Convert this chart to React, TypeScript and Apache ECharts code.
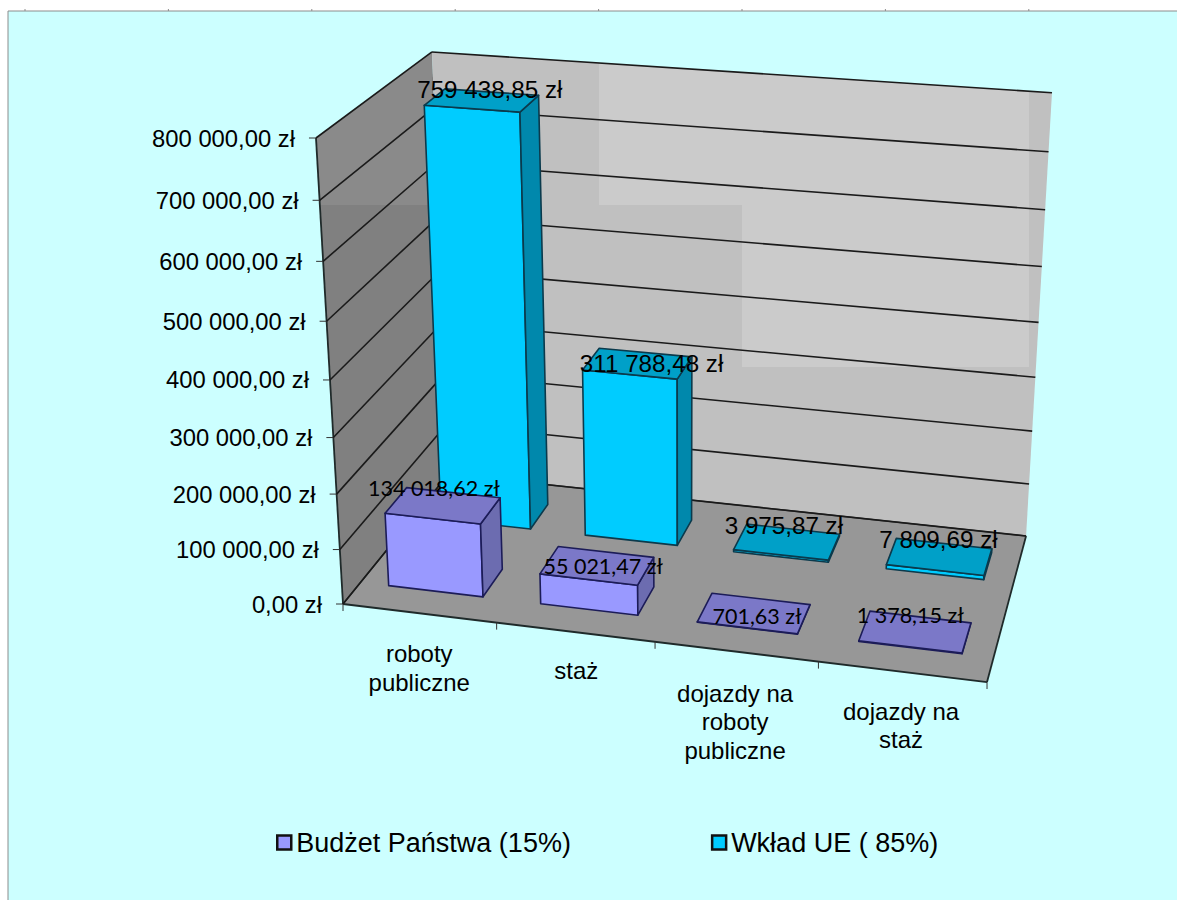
import React, { useEffect, useRef } from "react";
import * as echarts from "echarts";

const categories = ["roboty\npubliczne", "staż", "dojazdy na\nroboty\npubliczne", "dojazdy na\nstaż"];
const budzetValues = [134018.62, 55021.47, 701.63, 1378.15];
const ueValues = [759438.85, 311788.48, 3975.87, 7809.69];
const budzetLabels = ["134 018,62 zł", "55 021,47 zł", "701,63 zł", "1 378,15 zł"];
const ueLabels = ["759 438,85 zł", "311 788,48 zł", "3 975,87 zł", "7 809,69 zł"];
const axisTicks = [0, 100000, 200000, 300000, 400000, 500000, 600000, 700000, 800000];
const axisLabels = ["0,00 zł", "100 000,00 zł", "200 000,00 zł", "300 000,00 zł", "400 000,00 zł", "500 000,00 zł", "600 000,00 zł", "700 000,00 zł", "800 000,00 zł"];
const seriesNames = ["Budżet Państwa (15%)", "Wkład UE ( 85%)"];

// Layout of the perspective box
const O = [343, 604], U = [584.8, 37.1], V = [-50.4, -476.2], W = [158.8, -73.5];
const PA = -0.06, PB = -0.074, PC = 0.119;
const project = (x: number, y: number, z: number) => {
  const w = 1 + PA * x + PB * y + PC * z;
  return [
    (O[0] + x * U[0] + y * V[0] + z * W[0]) / w,
    (O[1] + x * U[1] + y * V[1] + z * W[1]) / w,
  ];
};
const GRID = { left: 100, top: 100, width: 800, height: 600 };
const normX = (px: number) => (px - GRID.left) / GRID.width;
const normY = (py: number) => (GRID.top + GRID.height - py) / GRID.height;
const BAR_HALF_Z = 0.098;
const BAR_RATIO = 0.624;

const budzetLabelOffsets = [[-9, -18], [6, 0], [3, 3], [-5, -17]];
const ueLabelOffsets = [[8, -11], [14, 0], [-3, -16], [-1, -17]];
const catLabelOffsets = [[0, 55], [1, 38], [-1, 70], [-1, 54]];

const FONT = "'Liberation Sans', Arial, sans-serif";
const BUDGET_FONT = "Lato, 'Liberation Sans', sans-serif";

const poly = (points: number[][], fill: string, stroke?: string, lineWidth = 1.6) => ({
  type: "polygon",
  shape: { points },
  style: { fill, stroke: stroke || "none", lineWidth, lineJoin: "round" },
  silent: true,
});
const seg = (a: number[], b: number[], stroke: string, lineWidth: number) => ({
  type: "line",
  shape: { x1: a[0], y1: a[1], x2: b[0], y2: b[1] },
  style: { stroke, lineWidth },
  silent: true,
});

const renderWalls = () => {
  const lerpTop = (px: number) => {
    const a = project(0, 1, 1), b = project(1, 1, 1);
    return a[1] + ((px - a[0]) / (b[0] - a[0])) * (b[1] - a[1]);
  };
  const left = [project(0, 0, 0), project(0, 1, 0), project(0, 1, 1), project(0, 0, 1)];
  const back = [project(0, 0, 1), project(0, 1, 1), project(1, 1, 1), project(1, 0, 1)];
  const floor = [project(0, 0, 0), project(1, 0, 0), project(1, 0, 1), project(0, 0, 1)];
  // Lighter tiles that the source picture shows on its walls
  const leftA = left[1], leftB = left[2];
  const tileY = 205;
  const leftEdgeX = (py: number) => left[1][0] + ((py - left[1][1]) / (left[0][1] - left[1][1])) * (left[0][0] - left[1][0]);
  return {
    type: "group",
    children: [
      poly(left, "#808080"),
      poly([leftA, leftB, [leftB[0], tileY], [leftEdgeX(tileY), tileY]], "#8a8a8a"),
      poly(back, "#c0c0c0"),
      poly([[599, lerpTop(599)], [1029, lerpTop(1029)], [1029, tileY], [599, tileY]], "#cbcbcb"),
      poly([[742, tileY], [1029, tileY], [1029, 367], [742, 367]], "#cbcbcb"),
      poly(floor, "#979797"),
      seg(left[0], left[1], "#1f2a2a", 1.8),
      seg(left[0], floor[1], "#1f2a2a", 1.8),
      seg(floor[1], floor[2], "#1f2a2a", 1.8),
      seg(floor[3], floor[2], "#3a3a3a", 1.4),
      seg(floor[0], floor[3], "#1f2a2a", 1.4),
    ],
  };
};

const renderGridLine = (_p: any, api: any) => {
  const y = normY(api.coord([0, api.value(1)])[1]);
  const a = project(0, y, 0), b = project(0, y, 1), c = project(1, y, 1);
  return {
    type: "group",
    children: [
      seg(a, [a[0] - 7, a[1]], "#333333", 1),
      seg(a, b, "#1a1a1a", 1.6),
      seg(b, c, "#1a1a1a", 1.6),
    ],
  };
};

const renderAxisLabel = (p: any, api: any) => {
  const y = normY(api.coord([0, api.value(1)])[1]);
  const a = project(0, y, 0);
  return {
    type: "text",
    silent: true,
    style: {
      text: axisLabels[p.dataIndex], x: a[0] - 21, y: a[1],
      align: "right", verticalAlign: "middle", fill: "#000", fontSize: 23.8, fontFamily: FONT,
    },
  };
};

const renderCategory = (p: any, api: any) => {
  const i = p.dataIndex;
  const band = api.size([1, 0])[0] / GRID.width;
  const cx = normX(api.coord([i, 0])[0]);
  const tick = project(cx + band / 2, 0, 0);
  const ch: any[] = [];
  ch.push(seg(tick, [tick[0], tick[1] + 7], "#333333", 1));
  if (i === 0) {
    const t0 = project(0, 0, 0);
    ch.push(seg(t0, [t0[0], t0[1] + 7], "#333333", 1));
  }
  const c = project(cx, 0, 0);
  const off = catLabelOffsets[i];
  ch.push({
    type: "text",
    silent: true,
    style: {
      text: categories[i], x: c[0] + off[0], y: c[1] + off[1],
      align: "center", verticalAlign: "middle", fill: "#000", fontSize: 24, fontFamily: FONT, lineHeight: 28.5,
    },
  });
  return { type: "group", children: ch };
};

const makeBar = (zc: number, front: string, side: string, top: string, edge: string) => (p: any, api: any) => {
  const i = p.dataIndex;
  const band = api.size([1, 0])[0] / GRID.width;
  const cx = normX(api.coord([i, 0])[0]);
  const v = normY(api.coord([i, api.value(1)])[1]);
  const x0 = cx - (band * BAR_RATIO) / 2, x1 = cx + (band * BAR_RATIO) / 2;
  const z0 = zc - BAR_HALF_Z, z1 = zc + BAR_HALF_Z;
  return {
    type: "group",
    children: [
      poly([project(x0, 0, z0), project(x1, 0, z0), project(x1, v, z0), project(x0, v, z0)], front, edge),
      poly([project(x1, 0, z0), project(x1, 0, z1), project(x1, v, z1), project(x1, v, z0)], side, edge),
      poly([project(x0, v, z0), project(x1, v, z0), project(x1, v, z1), project(x0, v, z1)], top, edge),
    ],
  };
};

const makeLabel = (zc: number, labels: string[], offsets: number[][], font: string, size: number) => (p: any, api: any) => {
  const i = p.dataIndex;
  const cx = normX(api.coord([i, 0])[0]);
  const v = normY(api.coord([i, api.value(1)])[1]);
  const c = project(cx, v, zc);
  return {
    type: "text",
    silent: true,
    style: {
      text: labels[i], x: c[0] + offsets[i][0], y: c[1] + offsets[i][1],
      align: "center", verticalAlign: "middle", fill: "#000", fontSize: size, fontFamily: font,
    },
  };
};

const pairs = (vals: number[]) => vals.map((v, i) => [i, v]);

export default function App() {
  const ref = useRef<HTMLDivElement>(null);
  useEffect(() => {
    const chart = echarts.init(ref.current!, undefined, { renderer: "svg" });
    const topTicks = Array.from({ length: 8 }, (_, i) => ({
      type: "line",
      shape: { x1: 25 + i * 143.4, y1: 9, x2: 25 + i * 143.4, y2: 11 },
      style: { stroke: "#8c8c8c", lineWidth: 1 },
      silent: true,
    }));
    chart.setOption({
      animation: false,
      backgroundColor: "#ffffff",
      graphic: {
        elements: [
          { type: "rect", z: -10, shape: { x: 8, y: 11, width: 1180, height: 900 }, style: { fill: "#CCFFFF", stroke: "#8c8c8c", lineWidth: 1 }, silent: true },
          ...topTicks,
        ],
      },
      grid: GRID,
      xAxis: { type: "category", data: categories, show: false },
      yAxis: { type: "value", min: 0, max: 800000, interval: 100000, show: false },
      legend: {
        left: 271, top: 824, itemWidth: 14, itemHeight: 14, itemGap: 140,
        selectedMode: false, icon: "rect",
        textStyle: { fontSize: 27, fontFamily: FONT, color: "#000" },
        data: [
          { name: seriesNames[0], itemStyle: { color: "#9999FF", borderColor: "#111", borderWidth: 2.5 } },
          { name: seriesNames[1], itemStyle: { color: "#00CCFF", borderColor: "#111", borderWidth: 2.5 } },
        ],
      },
      series: [
        { type: "custom", name: "walls", z: 1, data: [[0, 0]], renderItem: renderWalls, silent: true },
        { type: "custom", name: "gridlines", z: 2, data: axisTicks.map((t) => [0, t]), renderItem: renderGridLine, silent: true },
        { type: "custom", name: "axisLabels", z: 2, data: axisTicks.map((t) => [0, t]), renderItem: renderAxisLabel, silent: true },
        { type: "custom", name: "categories", z: 2, data: categories.map((_, i) => [i, 0]), renderItem: renderCategory, silent: true },
        { type: "custom", name: seriesNames[1], z: 3, data: pairs(ueValues), itemStyle: { color: "#00CCFF" }, renderItem: makeBar(0.75, "#00CCFF", "#0088AC", "#00A0C8", "#0b3a4c"), silent: true },
        { type: "custom", name: seriesNames[0], z: 4, data: pairs(budzetValues), itemStyle: { color: "#9999FF" }, renderItem: makeBar(0.25, "#9999FF", "#6C6CB0", "#7B78C8", "#1c1c58"), silent: true },
        { type: "custom", name: "ueLabels", z: 5, data: pairs(ueValues), renderItem: makeLabel(0.75, ueLabels, ueLabelOffsets, FONT, 24.2), silent: true },
        { type: "custom", name: "budzetLabels", z: 5, data: pairs(budzetValues), renderItem: makeLabel(0.25, budzetLabels, budzetLabelOffsets, BUDGET_FONT, 21.5), silent: true },
      ],
    });
    return () => chart.dispose();
  }, []);
  return <div ref={ref} style={{ position: "absolute", left: 0, top: 0, width: 1177, height: 900 }} />;
}
